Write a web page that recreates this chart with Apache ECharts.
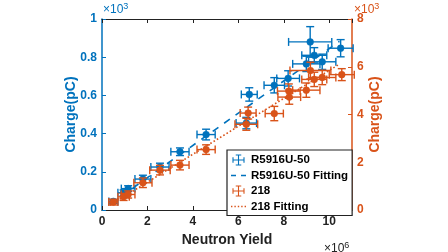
<!DOCTYPE html>
<html>
<head>
<meta charset="utf-8">
<script src="https://cdn.jsdelivr.net/npm/echarts@6/dist/echarts.min.js"></script>
<style>
html,body{margin:0;padding:0;background:#fff;}
#c{width:448px;height:252px;}
</style>
</head>
<body>
<div id="c"></div>
<script>
// ---- data (x in 10^6 neutrons, charge in 10^3 pC) ----
const blueX    = [0.5, 0.95, 1.15, 1.8, 2.55, 3.43, 4.58, 6.35, 6.48, 7.58, 8.19, 8.99, 9.16, 9.34, 9.69, 10.5];
const blueY    = [0.045, 0.09, 0.112, 0.162, 0.225, 0.305, 0.395, 0.455, 0.605, 0.653, 0.689, 0.765, 0.88, 0.81, 0.776, 0.847];
const blueXErr = [0.2, 0.25, 0.3, 0.35, 0.4, 0.4, 0.4, 0.45, 0.35, 0.45, 0.5, 0.6, 0.95, 0.55, 0.6, 0.55];
const blueYErr = [0.01, 0.015, 0.015, 0.02, 0.02, 0.02, 0.028, 0.03, 0.035, 0.04, 0.04, 0.04, 0.08, 0.04, 0.04, 0.045];

const orangeX    = [0.5, 0.95, 1.15, 1.8, 2.55, 3.43, 4.58, 6.35, 6.43, 7.58, 8.22, 8.24, 8.99, 9.17, 9.34, 9.69, 10.55];
const orangeY    = [0.33, 0.55, 0.65, 1.14, 1.67, 1.88, 2.53, 3.59, 4.06, 4.04, 4.98, 4.73, 5.02, 5.84, 5.47, 5.55, 5.67];
const orangeXErr = [0.2, 0.25, 0.3, 0.4, 0.45, 0.4, 0.4, 0.5, 0.35, 0.4, 0.5, 0.5, 0.6, 0.9, 0.55, 0.6, 0.55];
const orangeYErr = [0.12, 0.15, 0.15, 0.2, 0.2, 0.2, 0.2, 0.25, 0.25, 0.3, 0.3, 0.3, 0.3, 0.35, 0.3, 0.3, 0.25];

const fitX       = [0.35, 10.45];
const blueFitY   = [0.03, 0.883];
const orangeFitY = [0.2, 6.11];

const seriesNames = ['R5916U-50', 'R5916U-50 Fitting', '218', '218 Fitting'];
const xTicks = [0, 2, 4, 6, 8, 10];

const BLUE = '#0072BD', ORANGE = '#D95319';
const FONT = '"Liberation Sans", Arial, Helvetica, sans-serif';

function toData(xs, ys, xe, ye) {
  return xs.map((x, i) => [x, ys[i], xe[i], ye[i]]);
}
function errRender(color) {
  return function (params, api) {
    const x = api.value(0), y = api.value(1), dx = api.value(2), dy = api.value(3);
    const c = api.coord([x, y]);
    const l = api.coord([x - dx, y]), r = api.coord([x + dx, y]);
    const t = api.coord([x, y + dy]), b = api.coord([x, y - dy]);
    const cap = 4;
    const st = { stroke: color, lineWidth: 1.4, fill: null };
    const ln = (x1, y1, x2, y2) => ({ type: 'line', shape: { x1, y1, x2, y2 }, style: st });
    return {
      type: 'group',
      children: [
        ln(l[0], c[1], r[0], c[1]),
        ln(l[0], c[1] - cap, l[0], c[1] + cap),
        ln(r[0], c[1] - cap, r[0], c[1] + cap),
        ln(c[0], t[1], c[0], b[1]),
        ln(c[0] - cap, t[1], c[0] + cap, t[1]),
        ln(c[0] - cap, b[1], c[0] + cap, b[1]),
        { type: 'circle', shape: { cx: c[0], cy: c[1], r: 3.4 }, style: { fill: color, stroke: color, lineWidth: 0.5 } }
      ]
    };
  };
}

const crossIcon = 'path://M0,4.5L11,4.5L11,5.5L0,5.5Z M0,2.5L1,2.5L1,7.5L0,7.5Z M10,2.5L11,2.5L11,7.5L10,7.5Z M5,0L6,0L6,10L5,10Z M3,0L8,0L8,1L3,1Z M3,9L8,9L8,10L3,10Z';
const dashIcon = 'path://M0,0L5,0L5,1.4L0,1.4Z M10,0L15,0L15,1.4L10,1.4Z';
const dotIcon = 'path://M0,0L1.4,0L1.4,1.4L0,1.4Z M3.4,0L4.8,0L4.8,1.4L3.4,1.4Z M6.8,0L8.2,0L8.2,1.4L6.8,1.4Z M10.2,0L11.6,0L11.6,1.4L10.2,1.4Z M13.6,0L15,0L15,1.4L13.6,1.4Z';

const chart = echarts.init(document.getElementById('c'), null, { renderer: 'canvas' });
const axisLabelBase = { fontFamily: FONT, fontWeight: 'bold', fontSize: 12 };

chart.setOption({
  animation: false,
  backgroundColor: '#fff',
  textStyle: { fontFamily: FONT },
  grid: { left: 102, right: 96, top: 19, bottom: 37 },
  legend: {
    orient: 'vertical',
    left: 227, top: 150,
    padding: [4, 4, 3, 4],
    itemWidth: 15, itemHeight: 11, itemGap: 3.5,
    backgroundColor: '#fff',
    borderColor: '#222', borderWidth: 1.2, borderRadius: 0,
    textStyle: { fontFamily: FONT, fontWeight: 'bold', fontSize: 11.5, color: '#000' },
    data: [
      { name: seriesNames[0], icon: crossIcon, itemStyle: { color: BLUE } },
      { name: seriesNames[1], icon: dashIcon, itemStyle: { color: BLUE } },
      { name: seriesNames[2], icon: crossIcon, itemStyle: { color: ORANGE } },
      { name: seriesNames[3], icon: dotIcon, itemStyle: { color: ORANGE } }
    ]
  },
  xAxis: [{
    type: 'value', min: xTicks[0], max: 11, interval: 2, position: 'bottom',
    name: 'Neutron Yield', nameLocation: 'middle', nameGap: 23, nameMoveOverlap: false,
    nameTextStyle: { fontFamily: FONT, fontWeight: 'bold', fontSize: 14, color: '#222' },
    axisLine: { show: true, onZero: false, lineStyle: { color: '#222', width: 1.2 } },
    axisTick: { show: true, inside: true, length: 4, lineStyle: { color: '#222' } },
    axisLabel: Object.assign({ color: '#222', margin: 6, showMaxLabel: false }, axisLabelBase),
    splitLine: { show: false }
  }, {
    type: 'value', min: xTicks[0], max: 11, interval: 2, position: 'top',
    axisLine: { show: true, onZero: false, lineStyle: { color: '#222', width: 1.2 } },
    axisTick: { show: true, inside: true, length: 4, lineStyle: { color: '#222' } },
    axisLabel: { show: false },
    splitLine: { show: false }
  }],
  yAxis: [{
    type: 'value', min: 0, max: 1, interval: 0.2, position: 'left',
    name: 'Charge(pC)', nameLocation: 'middle', nameRotate: 90, nameGap: 24, nameMoveOverlap: false,
    nameTextStyle: { fontFamily: FONT, fontWeight: 'bold', fontSize: 14, color: BLUE },
    axisLine: { show: true, onZero: false, lineStyle: { color: BLUE, width: 1.5 } },
    axisTick: { show: true, inside: true, length: 4, lineStyle: { color: BLUE } },
    axisLabel: Object.assign({ color: BLUE, margin: 5 }, axisLabelBase),
    splitLine: { show: false }
  }, {
    type: 'value', min: 0, max: 8, interval: 2, position: 'right',
    name: 'Charge(pC)', nameLocation: 'middle', nameRotate: 90, nameGap: 16, nameMoveOverlap: false,
    nameTextStyle: { fontFamily: FONT, fontWeight: 'bold', fontSize: 14, color: ORANGE },
    axisLine: { show: true, onZero: false, lineStyle: { color: ORANGE, width: 1.5 } },
    axisTick: { show: true, inside: true, length: 4, lineStyle: { color: ORANGE } },
    axisLabel: Object.assign({ color: ORANGE, margin: 5 }, axisLabelBase),
    splitLine: { show: false }
  }],
  graphic: [
    { type: 'text', left: 103, top: 2, style: { text: '×10{s|3}', fill: BLUE, font: '12px ' + FONT,
      rich: { s: { fontSize: 9, verticalAlign: 'top', fill: BLUE, padding: [0, 0, 6, 0] } } } },
    { type: 'text', left: 354, top: 2, style: { text: '×10{s|3}', fill: ORANGE, font: '12px ' + FONT,
      rich: { s: { fontSize: 9, verticalAlign: 'top', fill: ORANGE, padding: [0, 0, 6, 0] } } } },
    { type: 'text', left: 324, top: 241, style: { text: '×10{s|6}', fill: '#222', font: '12px ' + FONT,
      rich: { s: { fontSize: 9, verticalAlign: 'top', fill: '#222', padding: [0, 0, 6, 0] } } } }
  ],
  series: [
    {
      name: seriesNames[0], type: 'custom', xAxisIndex: 0, yAxisIndex: 0,
      renderItem: errRender(BLUE), itemStyle: { color: BLUE },
      encode: { x: 0, y: 1 }, data: toData(blueX, blueY, blueXErr, blueYErr), z: 3
    },
    {
      name: seriesNames[1], type: 'line', xAxisIndex: 0, yAxisIndex: 0,
      showSymbol: false, symbol: 'none', itemStyle: { color: BLUE },
      lineStyle: { color: BLUE, width: 1.6, type: [7, 7] },
      data: fitX.map((x, i) => [x, blueFitY[i]]), z: 2
    },
    {
      name: seriesNames[2], type: 'custom', xAxisIndex: 0, yAxisIndex: 1,
      renderItem: errRender(ORANGE), itemStyle: { color: ORANGE },
      encode: { x: 0, y: 1 }, data: toData(orangeX, orangeY, orangeXErr, orangeYErr), z: 5
    },
    {
      name: seriesNames[3], type: 'line', xAxisIndex: 0, yAxisIndex: 1,
      showSymbol: false, symbol: 'none', itemStyle: { color: ORANGE },
      lineStyle: { color: ORANGE, width: 1.6, type: [1.6, 2.2] },
      data: fitX.map((x, i) => [x, orangeFitY[i]]), z: 4
    }
  ]
});
</script>
</body>
</html>
